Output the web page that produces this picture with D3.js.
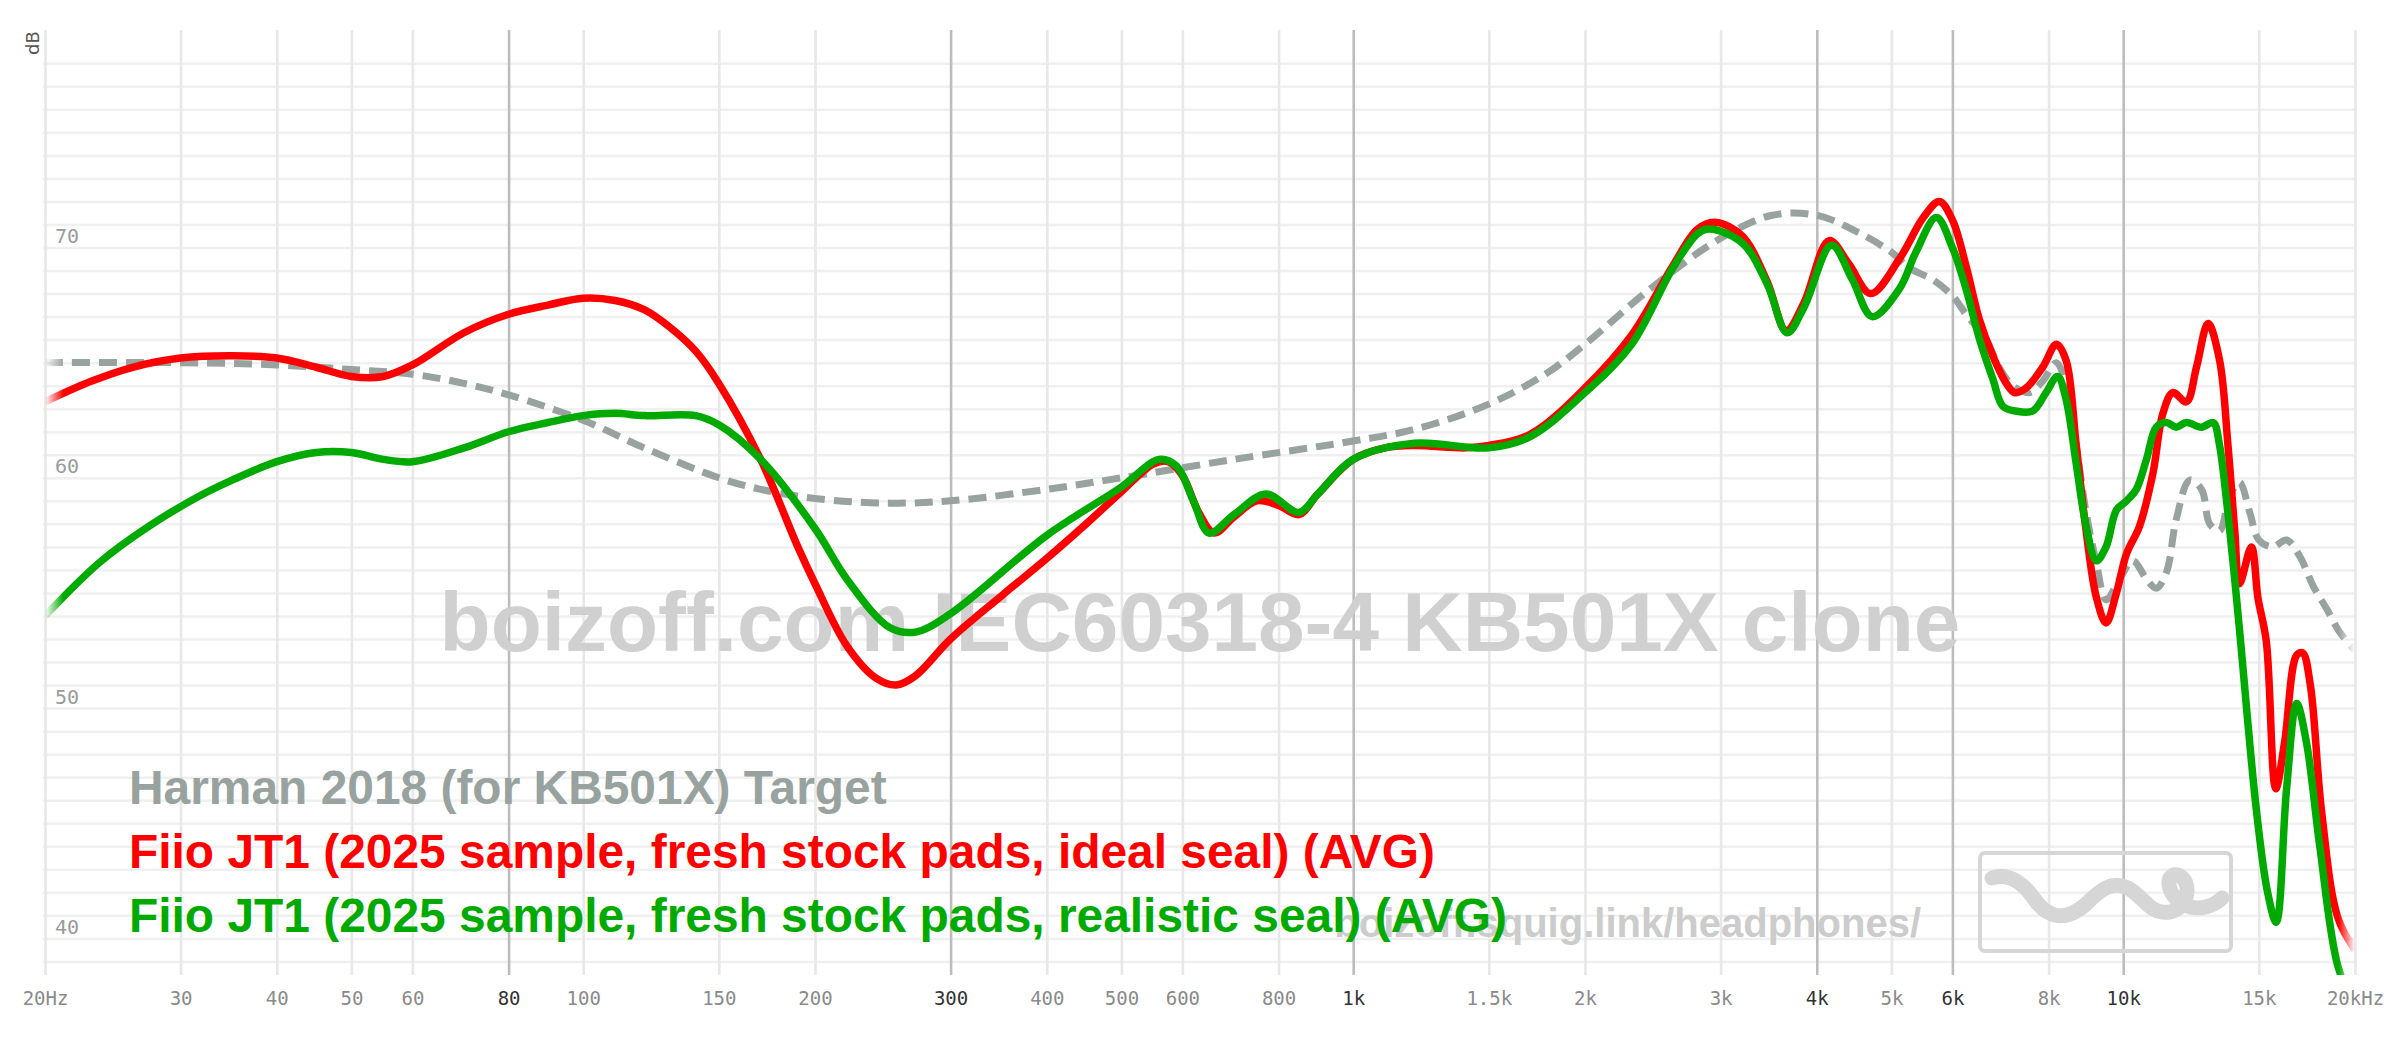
<!DOCTYPE html>
<html><head><meta charset="utf-8">
<script src="https://cdn.jsdelivr.net/npm/d3@7"></script>
<style>html,body{margin:0;padding:0;background:#fff}svg{display:block}</style>
</head><body>
<svg id="chart" width="2400" height="1038"></svg>
<script>
// ---------- axis data ----------
const xTicks = [20,30,40,50,60,80,100,150,200,300,400,500,600,800,1000,1500,2000,3000,4000,5000,6000,8000,10000,15000,20000];
const xTickLabels = ["20Hz","30","40","50","60","80","100","150","200","300","400","500","600","800","1k","1.5k","2k","3k","4k","5k","6k","8k","10k","15k","20kHz"];
const emphasizedTicks = [80,300,1000,4000,6000,10000];
const yGridMin = 39, yGridMax = 78;
const yLabelValues = [40,50,60,70];

// ---------- series ----------
const seriesNames = [
  "Harman 2018 (for KB501X) Target",
  "Fiio JT1 (2025 sample, fresh stock pads, ideal seal) (AVG)",
  "Fiio JT1 (2025 sample, fresh stock pads, realistic seal) (AVG)"
];
const seriesColors = ["#98a29f", "#ff0000", "#00aa00"];

const targetFreq = [20,30,40,50,60,70,80,100,120,150,170,200,250,300,400,500,700,1000,1200,1500,1776,2000,2430,3000,3500,4000,4500,5000,5280,5660,6000,6250,6640,6900,7190,7560,7860,8190,8430,8690,8950,9230,9500,9890,10290,10720,11040,11380,11720,12200,12640,12950,13340,13750,14160,14600,15000,15650,16290,16950,17650,18380,19100,20000];
const targetDb   = [65.0,65.0,64.9,64.7,64.5,64.1,63.6,62.5,61.3,60.0,59.5,59.1,58.9,59.0,59.5,60.0,60.8,61.6,62.1,63.2,64.5,65.8,68.2,70.4,71.4,71.4,70.7,69.8,69.1,68.6,67.9,67.1,66.0,64.8,64.0,63.7,64.2,65.0,64.0,61.4,58.5,56.3,54.7,55.6,56.4,55.6,55.2,55.9,58.2,59.9,59.5,58.0,57.7,59.2,59.8,58.5,57.3,57.0,57.3,56.6,55.3,54.3,53.3,52.5];

const idealFreq = [20,23,26,30,35,40,45,50,55,60,70,80,90,100,110,120,130,140,150,170,190,200,220,240,255,270,300,350,400,450,500,550,575,600,630,660,700,750,800,850,900,1000,1100,1200,1400,1500,1700,2000,2300,2600,2800,2950,3200,3450,3650,3850,4150,4400,4700,5120,5500,5770,6000,6250,6500,6770,7050,7230,7480,7860,8190,8430,8690,8950,9230,9500,9800,10100,10500,10930,11260,11600,12080,12450,12890,13340,13680,13960,14160,14670,14960,15340,15780,16200,16800,17100,17500,18100,19000,20000];
const idealDb   = [63.3,64.2,64.8,65.2,65.3,65.2,64.8,64.4,64.4,64.9,66.3,67.1,67.5,67.8,67.7,67.3,66.5,65.5,64.1,60.8,57.0,55.4,52.7,51.3,51.0,51.4,53.0,54.9,56.5,58.0,59.4,60.6,60.7,60.1,58.5,57.6,58.3,59.0,58.8,58.4,59.3,60.8,61.3,61.4,61.3,61.4,61.9,63.9,66.2,69.2,70.8,71.1,70.5,68.5,66.4,67.6,70.3,69.3,68.0,69.5,71.3,72.0,71.2,69.2,66.9,65.3,64.1,63.7,63.9,64.8,65.8,65.1,61.4,57.7,54.8,53.7,55.0,56.7,57.9,60.2,62.8,63.7,63.3,64.8,66.7,65.1,61.4,57.7,55.4,57.0,54.8,52.9,46.5,48.5,52.3,52.4,51.0,45.5,40.9,39.5];

const realFreq = [20,23.5,27.3,31.7,35,40,45,50,55,60,70,80,90,100,110,120,140,150,170,200,220,250,270,300,400,500,560,590,620,650,700,770,850,900,1000,1200,1500,1700,2000,2300,2600,2800,2900,3200,3450,3660,3850,4180,4450,4720,5120,5380,5720,6000,6250,6510,6770,6980,7250,7630,7940,8220,8430,8690,8950,9230,9500,9800,10100,10400,10720,11040,11380,11720,12080,12640,13090,13340,13600,13890,14160,14900,15400,15800,16300,16800,17300,18000,19000,20000];
const realDb   = [54.0,56.3,57.9,59.2,59.9,60.7,61.1,61.1,60.8,60.7,61.3,62.0,62.4,62.7,62.8,62.7,62.7,62.3,60.8,57.8,55.6,53.5,53.3,54.1,57.5,59.6,60.8,60.5,59.0,57.6,58.4,59.3,58.5,59.3,60.8,61.5,61.3,61.8,63.7,65.8,69.1,70.6,70.8,70.2,68.4,66.3,67.4,70.1,68.6,67.0,68.2,69.8,71.3,70.0,68.2,66.0,64.3,63.1,62.9,62.9,63.7,64.4,63.4,60.6,57.9,56.4,57.0,58.6,59.0,59.5,60.8,62.2,62.4,62.2,62.4,62.2,62.4,61.4,59.2,56.3,53.4,45.5,42.0,40.7,46.5,50.2,48.5,44.0,38.8,37.0];

const watermarkText = "boizoff.com IEC60318-4 KB501X clone";
const siteText = "boizoff.squig.link/headphones/";

// ---------- layout ----------
const plotL = 45, plotR = 2355, plotT = 30, plotB = 975;
const svg = d3.select("#chart");
svg.append("rect").attr("width",2400).attr("height",1038).attr("fill","#fff");

const x = d3.scaleLog().domain([20,20000]).range([plotL, plotR]);
const y = d3.scaleLinear().domain([40,70]).range([938.4, 247.5]);

const defs = svg.append("defs");
const grad = defs.append("linearGradient").attr("id","fade")
  .attr("gradientUnits","userSpaceOnUse").attr("x1",plotL).attr("x2",plotR).attr("y1",0).attr("y2",0);
[[0,"#000"],[0.008,"#fff"],[0.993,"#fff"],[1,"#000"]].forEach(s=>grad.append("stop").attr("offset",s[0]).attr("stop-color",s[1]));
defs.append("mask").attr("id","fadeMask").attr("maskUnits","userSpaceOnUse")
  .append("rect").attr("x",plotL).attr("y",plotT).attr("width",plotR-plotL).attr("height",plotB-plotT).attr("fill","url(#fade)");

// ---------- y grid ----------
const yAxis = d3.axisRight(y).tickValues(d3.range(yGridMin, yGridMax+1)).tickSize(plotR-43).tickFormat(d => yLabelValues.includes(d) ? String(d) : "");
const yg = svg.append("g").attr("transform","translate(43,0)").call(yAxis);
yg.select(".domain").remove();
yg.selectAll(".tick line").attr("stroke","#f0f0f0").attr("stroke-width",2.5);
yg.selectAll(".tick text").attr("x",12).attr("dy",-5).attr("dominant-baseline","auto")
  .attr("text-anchor","start").attr("fill","#9a9a9a")
  .style("font-family","'DejaVu Sans Mono', monospace").style("font-size","20px");

// ---------- x grid ----------
const xAxis = d3.axisBottom(x).tickValues(xTicks).tickFormat((d,i)=>xTickLabels[i]).tickSize(plotB-plotT).tickPadding(16.5);
const xg = svg.append("g").attr("transform",`translate(0,${plotT})`).call(xAxis);
xg.select(".domain").remove();
xg.selectAll(".tick line").attr("stroke", d => emphasizedTicks.includes(d) ? "#bdbdbd" : "#e8e8e8").attr("stroke-width",2.6);
xg.selectAll(".tick text").attr("fill", d => emphasizedTicks.includes(d) ? "#333" : "#8a8a8a")
  .style("font-family","'DejaVu Sans Mono', monospace").style("font-size","19px");

// dB label
svg.append("text").attr("transform","translate(39,43) rotate(-90)").attr("text-anchor","middle")
  .attr("fill","#555").style("font-family","'DejaVu Sans', sans-serif").style("font-size","18px").text("dB");

// ---------- watermarks ----------
svg.append("text").attr("x",1200).attr("y",651).attr("text-anchor","middle").attr("fill","#d0d0d0")
  .style("font-family","'Liberation Sans', Arial, sans-serif").style("font-weight","bold").style("font-size","83.7px")
  .text(watermarkText);
svg.append("text").attr("x",1921).attr("y",937).attr("text-anchor","end").attr("fill","#cccccc")
  .style("font-family","'Liberation Sans', Arial, sans-serif").style("font-weight","bold").style("font-size","40px")
  .text(siteText);
// logo
const logo = svg.append("g").attr("fill","none").attr("stroke","#d6d6d6");
logo.append("rect").attr("x",1980).attr("y",853).attr("width",251).attr("height",98).attr("rx",5).attr("stroke-width",4);
logo.append("path").attr("stroke-width",15).attr("stroke-linecap","round").attr("stroke-linejoin","round")
  .attr("d","M1992,878 C2010,872 2025,885 2035,900 C2048,918 2065,922 2085,905 C2100,890 2112,880 2128,888 C2145,898 2150,915 2170,912 C2190,908 2192,880 2178,875 C2165,872 2165,895 2185,905 C2200,912 2215,905 2222,898");

// ---------- curves ----------
const line = d3.line().x(d=>x(d[0])).y(d=>y(d[1])).curve(d3.curveCatmullRom.alpha(0.5));
const curves = svg.append("g").attr("mask","url(#fadeMask)");
const zip = (f,v) => f.map((fr,i)=>[fr, v[i]]);
curves.append("path").datum(zip(targetFreq,targetDb)).attr("d",line).attr("fill","none")
  .attr("stroke",seriesColors[0]).attr("stroke-width",7).attr("stroke-dasharray","18 9");
curves.append("path").datum(zip(idealFreq,idealDb)).attr("d",line).attr("fill","none")
  .attr("stroke",seriesColors[1]).attr("stroke-width",7.5).attr("stroke-linejoin","round");
curves.append("path").datum(zip(realFreq,realDb)).attr("d",line).attr("fill","none")
  .attr("stroke",seriesColors[2]).attr("stroke-width",7.5).attr("stroke-linejoin","round");

// ---------- legend ----------
const legendBaselines = [804, 868, 932];
svg.append("g").selectAll("text").data(seriesNames).join("text")
  .attr("x",129).attr("y",(d,i)=>legendBaselines[i]).attr("fill",(d,i)=>seriesColors[i])
  .style("font-family","'Liberation Sans', Arial, sans-serif").style("font-weight","bold").style("font-size","47.9px")
  .text(d=>d);
</script>
</body></html>
